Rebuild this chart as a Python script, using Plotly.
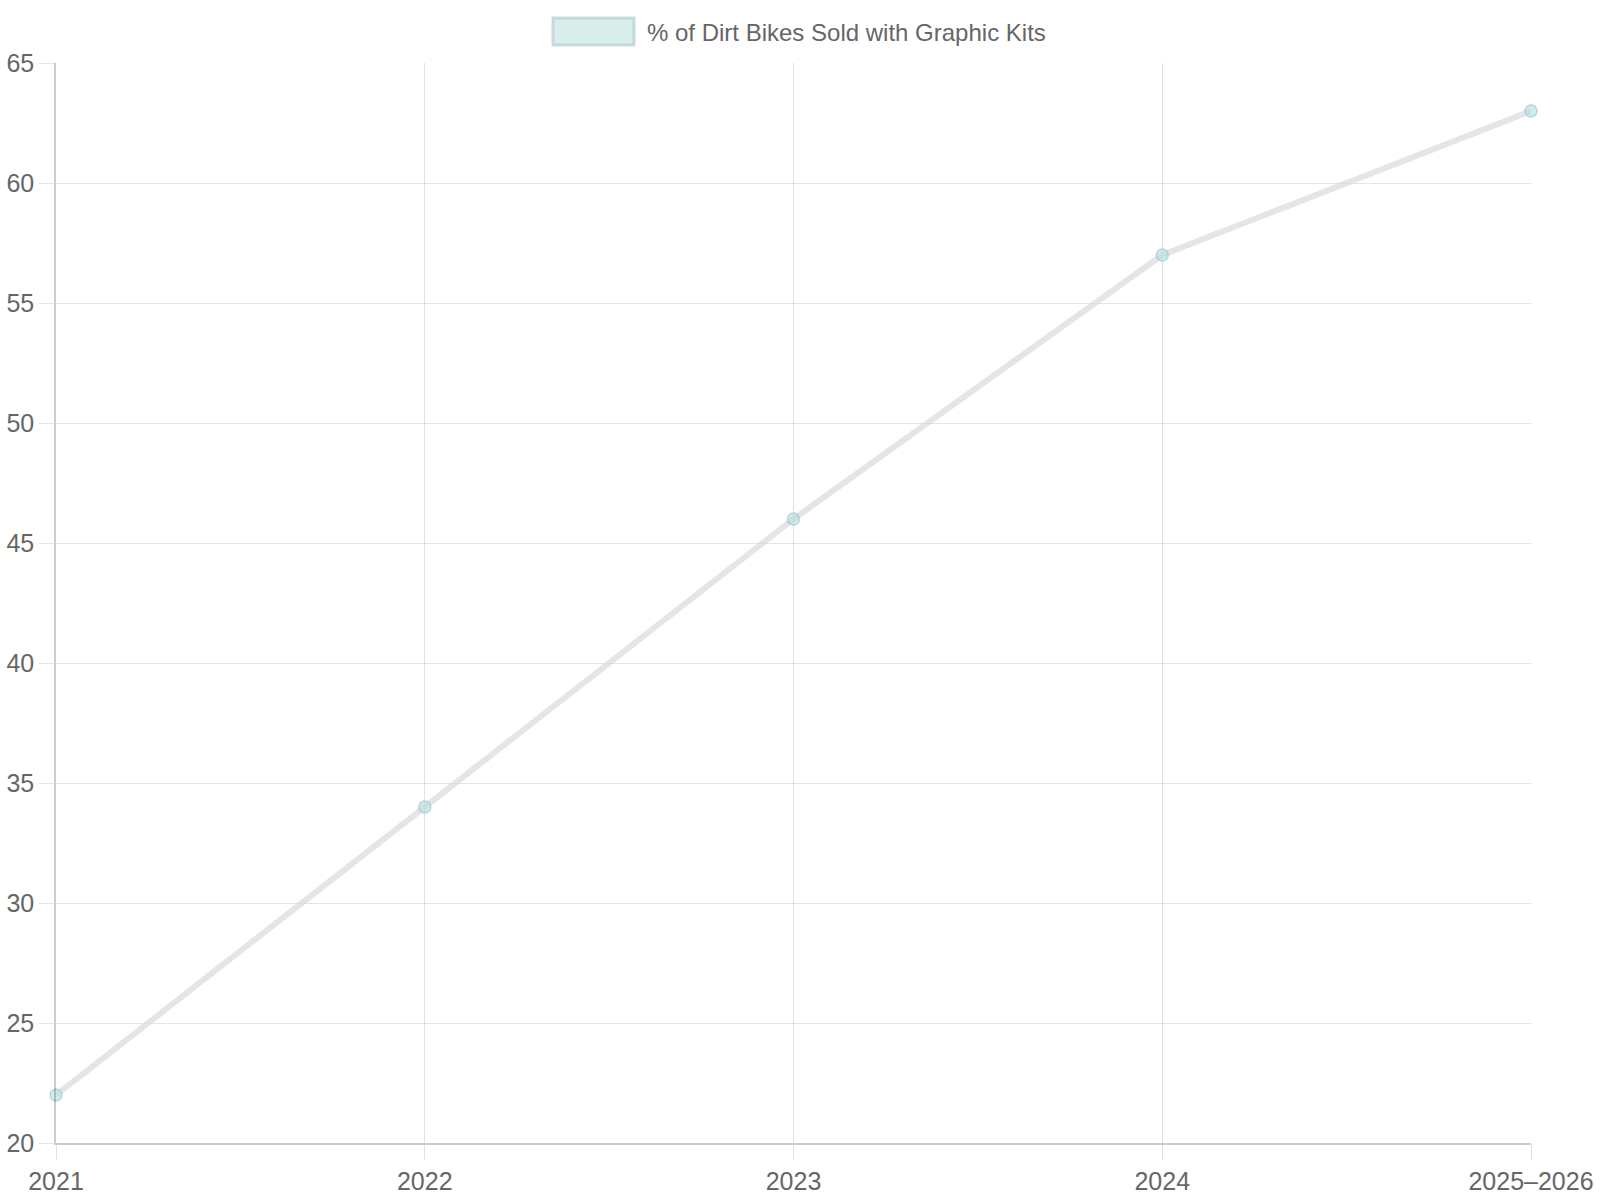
import plotly.graph_objects as go

years = ["2021", "2022", "2023", "2024", "2025–2026"]
pct_graphic_kits = [22, 34, 46, 57, 63]
series_name = "% of Dirt Bikes Sold with Graphic Kits"
y_ticks = [20, 25, 30, 35, 40, 45, 50, 55, 60, 65]

L, R, T, B = 56, 69, 63, 57
W, H = 1600, 1200
pw, ph = W - L - R, H - T - B


def px_x(x):
    return (x - L) / pw


def px_y(y):
    return (H - B - y) / ph


fig = go.Figure()
fig.add_trace(go.Scatter(
    x=years, y=pct_graphic_kits, name=series_name,
    mode="lines+markers",
    line=dict(color="rgba(215,215,215,0.65)", width=6),
    marker=dict(size=12, color="rgba(178,223,225,0.6)",
                line=dict(color="rgba(150,195,200,0.6)", width=1.5)),
    showlegend=False,
    cliponaxis=False,
))

# legend drawn chart.js style: wide filled box + label
fig.add_shape(type="rect", xref="paper", yref="paper",
              x0=px_x(553), x1=px_x(634), y0=px_y(45), y1=px_y(18),
              fillcolor="rgba(178,223,219,0.5)",
              line=dict(color="rgba(190,210,210,0.8)", width=3))
fig.add_annotation(xref="paper", yref="paper",
                   x=px_x(645), y=px_y(32),
                   xanchor="left", yanchor="middle", showarrow=False,
                   text=series_name,
                   font=dict(size=24, color="#666666"))

fig.update_layout(
    width=W, height=H,
    margin=dict(l=L, r=R, t=T, b=B),
    plot_bgcolor="white", paper_bgcolor="white",
    font=dict(family="Liberation Sans, Arial, sans-serif", size=25, color="#666666"),
    showlegend=False,
)
fig.update_xaxes(
    type="category", range=[0, len(years) - 1], automargin=False,
    showgrid=True, gridcolor="rgba(0,0,0,0.12)", gridwidth=1,
    ticks="outside", ticklen=15, tickcolor="rgba(0,0,0,0.12)",
    showline=True, linecolor="rgba(0,0,0,0.2)", linewidth=1.5,
    zeroline=False, tickfont=dict(size=25, color="#666666"),
)
fig.update_yaxes(
    range=[20, 65], tickvals=y_ticks, automargin=False,
    showgrid=True, gridcolor="rgba(0,0,0,0.1)", gridwidth=1,
    ticks="outside", ticklen=15, tickcolor="rgba(0,0,0,0.1)",
    showline=True, linecolor="rgba(0,0,0,0.2)", linewidth=1.5,
    zeroline=False, tickfont=dict(size=25, color="#666666"),
)

fig.write_html("out.html", config={"displayModeBar": False},
               post_script="document.body.style.margin='0';")
